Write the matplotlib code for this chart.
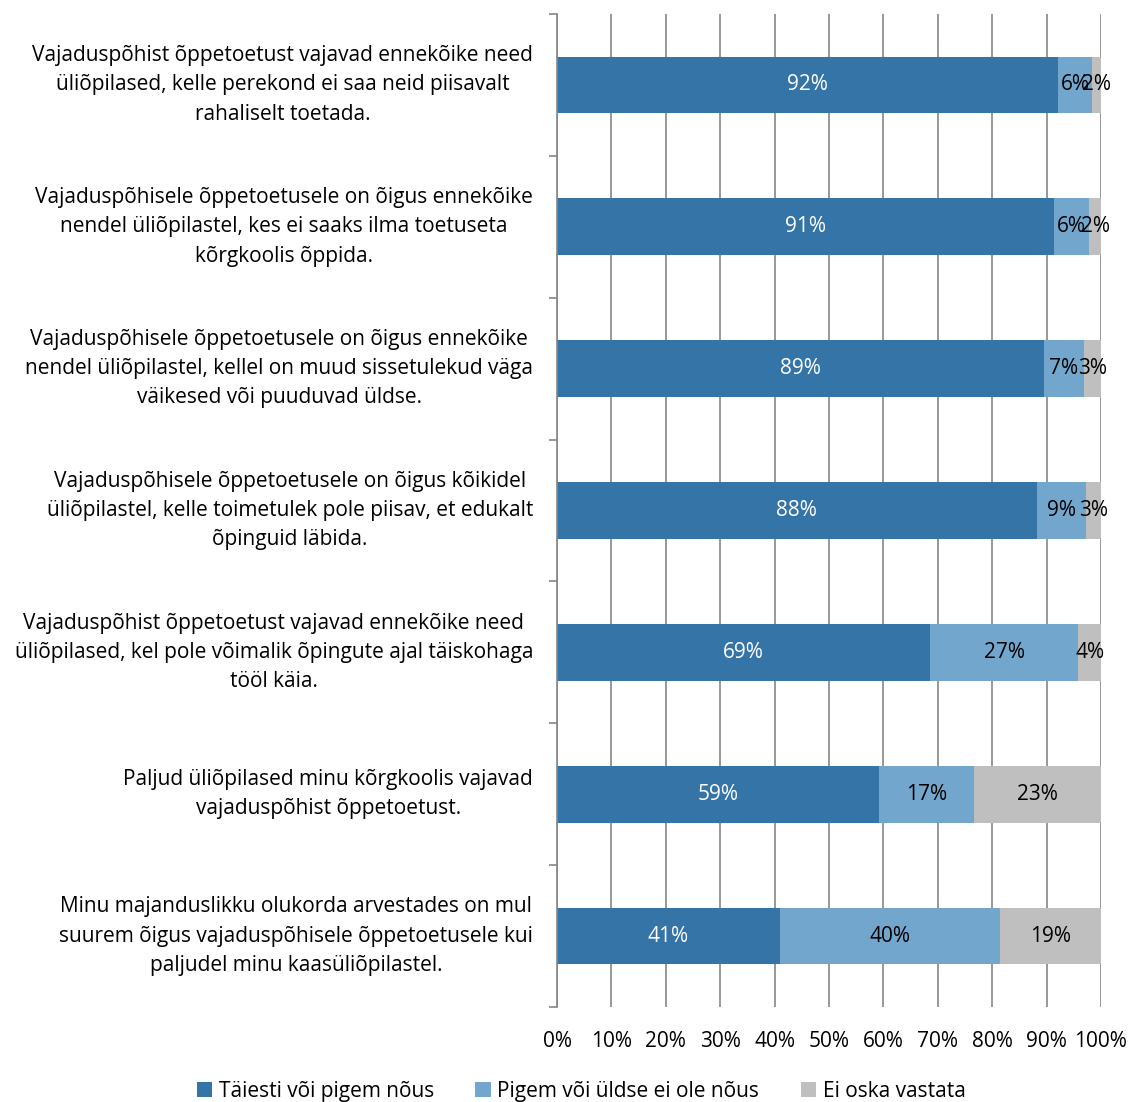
import numpy as np
import matplotlib.pyplot as plt

plt.rcParams['font.family'] = ['Open Sans', 'DejaVu Sans']

categories = [
    "Vajaduspõhist õppetoetust vajavad ennekõike need\nüliõpilased, kelle perekond ei saa neid piisavalt\nrahaliselt toetada.",
    "Vajaduspõhisele õppetoetusele on õigus ennekõike\nnendel üliõpilastel, kes ei saaks ilma toetuseta\nkõrgkoolis õppida.",
    "Vajaduspõhisele õppetoetusele on õigus ennekõike\nnendel üliõpilastel, kellel on muud sissetulekud väga\nväikesed või puuduvad üldse.",
    "Vajaduspõhisele õppetoetusele on õigus kõikidel\nüliõpilastel, kelle toimetulek pole piisav, et edukalt\nõpinguid läbida.",
    "Vajaduspõhist õppetoetust vajavad ennekõike need\nüliõpilased, kel pole võimalik õpingute ajal täiskohaga\ntööl käia.",
    "Paljud üliõpilased minu kõrgkoolis vajavad\nvajaduspõhist õppetoetust.",
    "Minu majanduslikku olukorda arvestades on mul\nsuurem õigus vajaduspõhisele õppetoetusele kui\npaljudel minu kaasüliõpilastel.",
]
agree = [92.1, 91.4, 89.5, 88.2, 68.6, 59.2, 41.0]
disagree = [6.2, 6.4, 7.4, 9.0, 27.2, 17.5, 40.4]
dont_know = [1.7, 2.2, 3.1, 2.8, 4.2, 23.3, 18.6]
agree_lbl = ["92%", "91%", "89%", "88%", "69%", "59%", "41%"]
disagree_lbl = ["6%", "6%", "7%", "9%", "27%", "17%", "40%"]
dont_know_lbl = ["2%", "2%", "3%", "3%", "4%", "23%", "19%"]
series_names = ["Täiesti või pigem nõus", "Pigem või üldse ei ole nõus", "Ei oska vastata"]
colors = ["#3574A6", "#73A6CD", "#BFBFBF"]

fig = plt.figure(figsize=(11.35, 11.02), dpi=100)
ax = fig.add_axes([557 / 1135, 1 - 1007 / 1102, 544 / 1135, 993 / 1102])

y = np.arange(len(categories))
left = np.zeros(len(categories))
for vals, lbls, col, name, tc in zip([agree, disagree, dont_know],
                                     [agree_lbl, disagree_lbl, dont_know_lbl],
                                     colors, series_names, ["white", "black", "black"]):
    vals = np.array(vals)
    ax.barh(y, vals, left=left, height=0.4, color=col, label=name, zorder=2)
    for yi, l, v, t in zip(y, left, vals, lbls):
        ax.text(l + v / 2, yi, t, ha='center', va='center', color=tc, fontsize=15, zorder=3)
    left = left + vals

ax.set_xlim(0, 100)
ax.set_ylim(len(categories) - 0.5, -0.5)
ax.set_xticks(np.arange(0, 101, 10))
ax.set_xticklabels([f"{v}%" for v in range(0, 101, 10)], fontsize=15)
ax.xaxis.grid(True, color='#868686', linewidth=1.2, zorder=0)
ax.set_axisbelow(True)

ax.set_yticks(np.arange(-0.5, len(categories) + 0.5, 1))
ax.set_yticklabels([])
ax.tick_params(axis='y', length=6, color='#868686', width=1.2)
ax.tick_params(axis='x', length=0, pad=17)
for yi, c in zip(y, categories):
    ax.text(-4.4, yi, c, ha='right', va='center', multialignment='center',
            fontsize=15, linespacing=1.52)

for s in ['top', 'right', 'bottom']:
    ax.spines[s].set_visible(False)
ax.spines['left'].set_color('#868686')
ax.spines['left'].set_linewidth(1.2)

fig.legend(loc='lower center', bbox_to_anchor=(0.512, -0.017), ncol=3, frameon=False,
           fontsize=15, handlelength=0.75, handleheight=0.75, handletextpad=0.3,
           columnspacing=2.0)

fig.savefig("out.png", dpi=100)
